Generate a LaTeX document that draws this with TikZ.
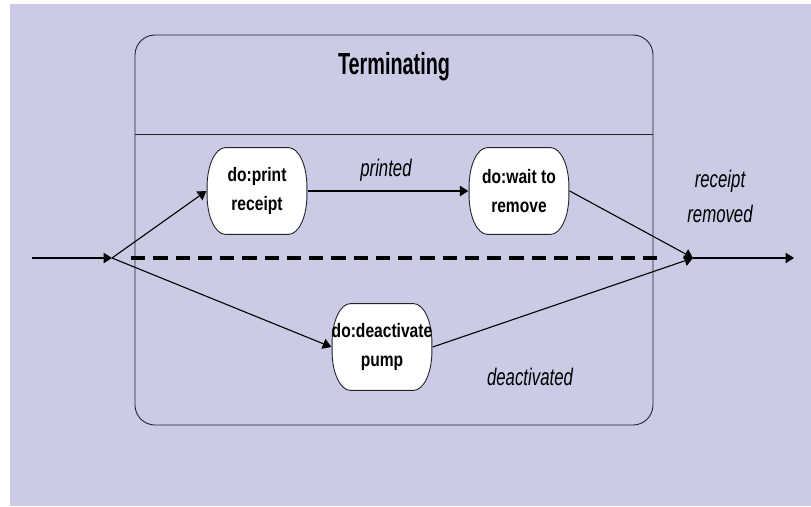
\documentclass[tikz,border=0pt]{standalone}
\usepackage{fontspec}
\setmainfont{Liberation Sans}
\newfontfamily\statefont[FakeStretch=0.8]{Liberation Sans}
\newfontfamily\labelfont[FakeStretch=0.7]{Liberation Sans}
\newfontfamily\titlefont[FakeStretch=0.65]{Liberation Sans}
\usetikzlibrary{arrows.meta}
\definecolor{panel}{RGB}{203,203,230}
\definecolor{frame}{RGB}{35,35,45}

\begin{document}
\begin{tikzpicture}[x=1pt,y=1pt,
  activity/.style={minimum width=101pt, minimum height=88pt, inner sep=0pt,
    align=center, font=\statefont\bfseries\fontsize{19.5}{29}\selectfont,
    path picture={\draw[draw=frame, fill=white, line width=0.9pt]
      ([xshift=19pt,yshift=-0.6pt]path picture bounding box.north west)
      -- ([xshift=-19pt,yshift=-0.6pt]path picture bounding box.north east)
      arc[start angle=90, end angle=0, x radius=18.4pt, y radius=39pt]
      -- ([xshift=-0.6pt,yshift=39.6pt]path picture bounding box.south east)
      arc[start angle=0, end angle=-90, x radius=18.4pt, y radius=39pt]
      -- ([xshift=19pt,yshift=0.6pt]path picture bounding box.south west)
      arc[start angle=270, end angle=180, x radius=18.4pt, y radius=39pt]
      -- ([xshift=0.6pt,yshift=-39.6pt]path picture bounding box.north west)
      arc[start angle=180, end angle=90, x radius=18.4pt, y radius=39pt]
      -- cycle;}},
  evlabel/.style={font=\labelfont\itshape\fontsize{24}{35}\selectfont,
    align=center, inner sep=0pt},
  flow/.style={-{Triangle[length=8.5pt,width=10.5pt]}, line width=1.1pt},
  region/.style={line width=3.4pt, dash pattern=on 14.25pt off 8pt}
]
% page and panel
\useasboundingbox (0,0) rectangle (811,-506);
\fill[white] (0,0) rectangle (811,-506);
\fill[panel] (10,-4) rectangle (811,-506);

% composite state with its name compartment
\draw[frame, line width=0.9pt, rounded corners=20pt] (135,-35) rectangle (653,-425);
\draw[frame, line width=0.9pt] (135,-134) -- (653,-134);
\node[anchor=base, inner sep=0pt, font=\titlefont\bfseries\fontsize{30.5}{32}\selectfont]
  (title) at (394,-74) {Terminating};

% concurrent region separator
\draw[region] (131,-258) -- (657,-258);

% activities
\node[activity] (print) at (257,-191) {do:print\\receipt};
\node[activity] (wait)  at (519,-191) {do:wait to\\remove};
\node[activity] (pump)  at (382,-347) {do:deactivate\\pump};

% fork and join points
\coordinate (start) at (32,-258);
\coordinate (fork)  at (112,-258);
\coordinate (join)  at (693,-258);
\coordinate (end)   at (794,-258);

% transitions
\draw[flow] (start) -- (fork);
\draw[flow] (fork) -- (print.west);
\draw[flow] (fork) -- (pump.west);
\draw[flow] (print.east) -- (wait.west);
\draw[flow] (wait.east) -- (join);
\draw[flow] (pump.east) -- (join);
\draw[flow] (join) -- (end);

% event labels
\node[evlabel, anchor=base] (printed) at (386,-176) {printed};
\node[evlabel] (removed) at (720,-196) {receipt\\removed};
\node[evlabel, anchor=base] (deact) at (530,-385) {deactivated};
\end{tikzpicture}
\end{document}
